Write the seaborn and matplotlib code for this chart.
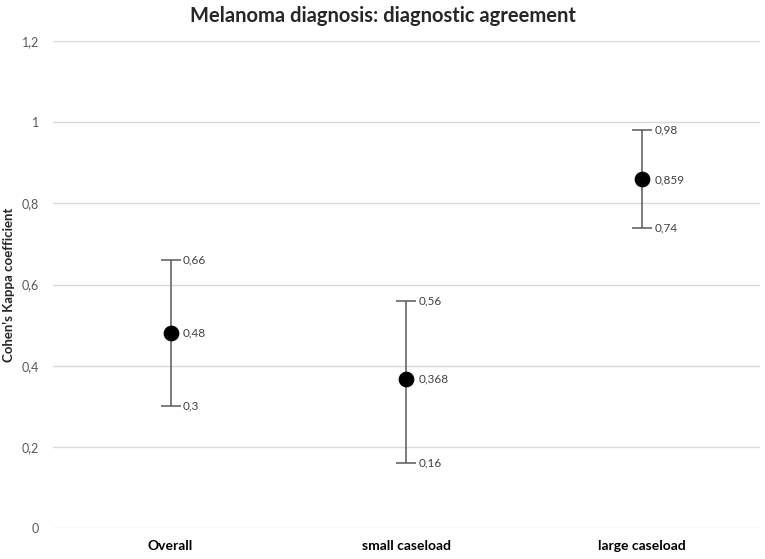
import numpy as np
import pandas as pd
import matplotlib
matplotlib.use("Agg")
import matplotlib.pyplot as plt
import seaborn as sns

# ── Data ────────────────────────────────────────────────────────────────────
categories = ["Overall", "small caseload", "large caseload"]
kappa      = [0.48, 0.368, 0.859]
ci_low     = [0.30, 0.16, 0.74]
ci_high    = [0.66, 0.56, 0.98]
y_ticks    = [0, 0.2, 0.4, 0.6, 0.8, 1.0, 1.2]


def fmt(v):
    """Decimal comma, like the original Excel export."""
    s = f"{v:.3f}".rstrip("0").rstrip(".")
    return s.replace(".", ",")


sns.set_style("white")
plt.rcParams["font.family"] = ["Lato", "DejaVu Sans"]

df = pd.DataFrame({"group": categories, "kappa": kappa,
                   "low": ci_low, "high": ci_high})

fig = plt.figure(figsize=(7.65, 5.59), dpi=100)
ax = fig.add_axes([0.069, 0.0555, 0.924, 0.871])

xpos = np.arange(len(df))
ax.errorbar(xpos, df["kappa"],
            yerr=[df["kappa"] - df["low"], df["high"] - df["kappa"]],
            fmt="none", ecolor="#595959", elinewidth=1.1,
            capsize=7, capthick=1.1, zorder=2)
sns.scatterplot(data=df, x="group", y="kappa", ax=ax, s=110,
                color="black", edgecolor="black", zorder=3, legend=False)

# value labels next to dot and caps
for i, row in df.iterrows():
    for v in (row["kappa"], row["low"], row["high"]):
        ax.annotate(fmt(v), (i, v), xytext=(9, 0), textcoords="offset points",
                    va="center", ha="left", fontsize=8.5, color="#404040")

ax.set_xlim(-0.5, 2.5)
ax.set_ylim(0, 1.2)
ax.set_yticks(y_ticks)
ax.set_yticklabels([fmt(t) for t in y_ticks], color="#595959", fontsize=9)
ax.set_xticks(xpos)
ax.set_xticklabels(categories, fontweight="bold", fontsize=10, color="black")
ax.tick_params(axis="y", length=0, pad=10)
ax.tick_params(axis="x", length=0, pad=9)
ax.yaxis.grid(True, color="#d9d9d9", linewidth=1)
ax.set_axisbelow(True)
for sp in ax.spines.values():
    sp.set_visible(False)

ax.set_xlabel("")
ax.set_ylabel("Cohen's Kappa coefficient", fontweight="bold", fontsize=9.5)
ax.yaxis.set_label_coords(-0.054, 0.5)
fig.text(0.5, 0.972, "Melanoma diagnosis: diagnostic agreement",
         ha="center", va="center", fontsize=14.5, fontweight="bold")

fig.savefig("out.png", dpi=100)
